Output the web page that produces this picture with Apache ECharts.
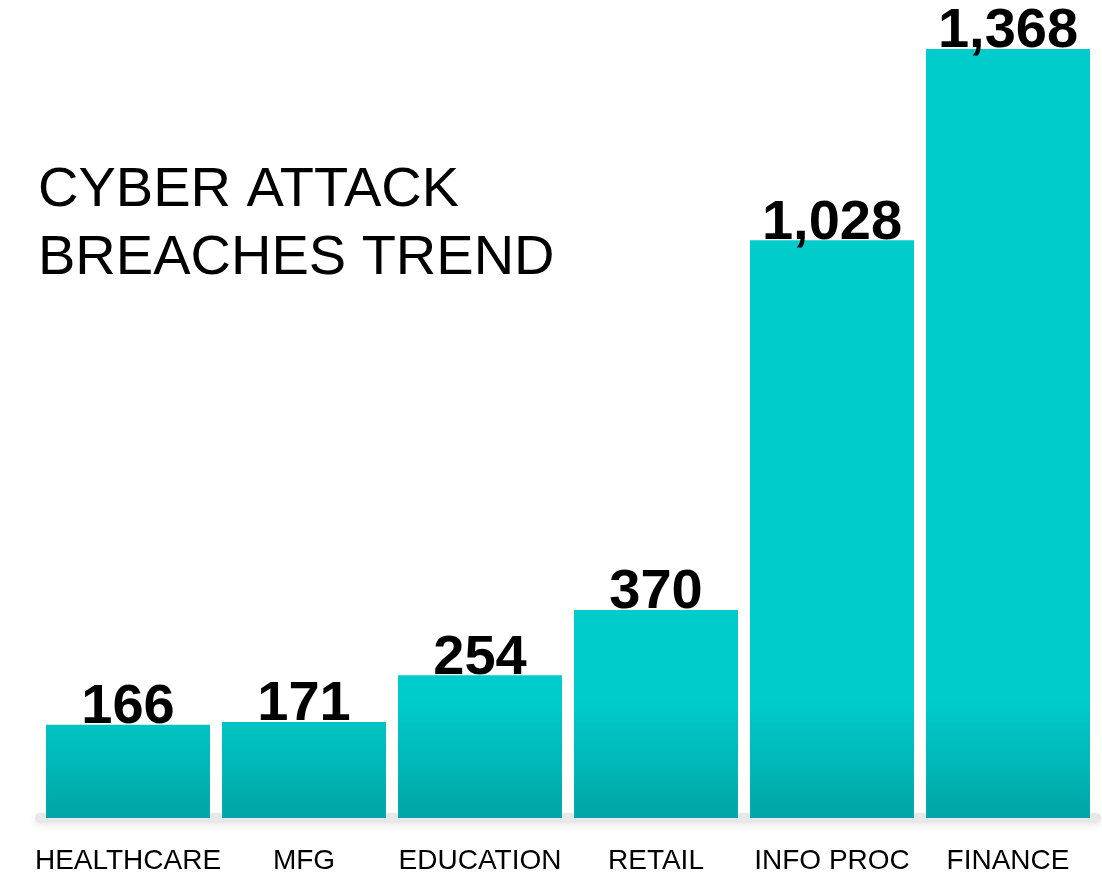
<!DOCTYPE html>
<html>
<head>
<meta charset="utf-8">
<title>Cyber Attack Breaches Trend</title>
<script src="https://cdn.jsdelivr.net/npm/echarts@6/dist/echarts.min.js"></script>
<style>
  html, body { margin: 0; padding: 0; background: #ffffff; }
  #chart { width: 1102px; height: 873px; }
</style>
</head>
<body>
<div id="chart"></div>
<script>
// Breaches by industry
const categories = ['HEALTHCARE', 'MFG', 'EDUCATION', 'RETAIL', 'INFO PROC', 'FINANCE'];
const breaches = [166, 171, 254, 370, 1028, 1368];
const titleLines = ['CYBER ATTACK', 'BREACHES TREND'];

const FONT = '"Liberation Sans", Arial, Helvetica, sans-serif';
const chart = echarts.init(document.getElementById('chart'), null, { renderer: 'canvas' });

// Teal fill that darkens only near the baseline
const barFill = new echarts.graphic.LinearGradient(0, 700, 0, 818, [
  { offset: 0, color: '#00cccc' },
  { offset: 1, color: '#00a5a5' }
], true);

chart.setOption({
  backgroundColor: '#ffffff',
  animation: false,
  title: {
    text: titleLines.join('\n'),
    left: 33,
    top: 152,
    textStyle: {
      fontFamily: FONT,
      fontSize: 56,
      fontWeight: 'normal',
      lineHeight: 68,
      color: '#000000'
    }
  },
  grid: { left: 40, right: 6, top: 49, bottom: 55, outerBoundsMode: 'none' },
  xAxis: {
    type: 'category',
    data: categories,
    offset: 6,
    axisTick: { show: false },
    axisLine: {
      show: true,
      lineStyle: {
        color: '#e8e8e8',
        width: 10,
        shadowColor: 'rgba(0,0,0,0.10)',
        shadowBlur: 8,
        shadowOffsetY: 2
      }
    },
    axisLabel: {
      color: '#000000',
      fontFamily: FONT,
      fontSize: 28,
      margin: 23,
      interval: 0
    }
  },
  yAxis: {
    type: 'value',
    min: 0,
    max: 1368,
    show: false,
    splitLine: { show: false }
  },
  series: [{
    type: 'bar',
    data: breaches,
    barWidth: 164,
    itemStyle: { color: barFill },
    z: 3,
    label: {
      show: true,
      position: 'top',
      distance: -11,
      color: '#000000',
      fontFamily: FONT,
      fontSize: 56,
      fontWeight: 'bold',
      formatter: p => p.value.toLocaleString('en-US')
    }
  }]
});
</script>
</body>
</html>
